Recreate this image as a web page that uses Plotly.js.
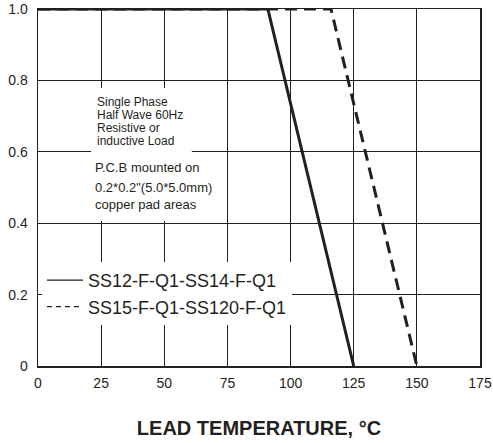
<!DOCTYPE html>
<html>
<head>
<meta charset="utf-8">
<script src="https://cdn.plot.ly/plotly-3.0.1.min.js"></script>
<style>html,body{margin:0;padding:0;background:#fff;}#chart{width:493px;height:443px;}</style>
</head>
<body>
<div id="chart"></div>
<script>
// Series data (lead temperature °C vs. normalized forward current)
const tempSolid = [0, 91, 125];
const currentSolid = [1.0, 1.0, 0];
const tempDash = [0, 116, 150];
const currentDash = [1.0, 1.0, 0];
const seriesNames = ["SS12-F-Q1-SS14-F-Q1", "SS15-F-Q1-SS120-F-Q1"];
const xTicks = [0, 25, 50, 75, 100, 125, 150, 175];
const yTicks = [0, 0.2, 0.4, 0.6, 0.8, 1.0];
const yTickLabels = ["0", "0.2", "0.4", "0.6", "0.8", "1.0"];
const noteLines1 = ["Single Phase", "Half Wave 60Hz", "Resistive or", "inductive Load"];
const noteLines2 = ["P.C.B mounted on", "0.2*0.2\"(5.0*5.0mm)", "copper pad areas"];

const ink = "#231f20";
const font = "Liberation Sans, Arial, sans-serif";

const traces = [
  {x: tempSolid, y: currentSolid, name: seriesNames[0], mode: "lines", showlegend: false,
   line: {color: ink, width: 3}},
  {x: tempDash, y: currentDash, name: seriesNames[1], mode: "lines", showlegend: false,
   line: {color: ink, width: 3, dash: "12px,7px"}},
  // legend keys (thin samples, as in the original legend)
  {x: [null], y: [null], name: seriesNames[0], mode: "lines",
   line: {color: ink, width: 1.3}},
  {x: [null], y: [null], name: seriesNames[1], mode: "lines",
   line: {color: ink, width: 1.3, dash: "5px,4px"}}
];

const notePos1 = [0.7395, 0.703, 0.6665, 0.630];
const notePos2 = [0.5574, 0.4986, 0.451];
const annotations = [];
noteLines1.forEach((t, i) => annotations.push({
  xref: "paper", yref: "paper", x: 0.131, y: notePos1[i], xanchor: "left", yanchor: "middle",
  text: t, showarrow: false, borderpad: 0, font: {family: font, size: 12, color: ink}
}));
noteLines2.forEach((t, i) => annotations.push({
  xref: "paper", yref: "paper", x: 0.127, y: notePos2[i], xanchor: "left", yanchor: "middle",
  text: t, showarrow: false, borderpad: 0, font: {family: font, size: 13, color: ink}
}));

const layout = {
  width: 493, height: 443,
  margin: {l: 38, r: 13, t: 9, b: 77},
  paper_bgcolor: "#fff", plot_bgcolor: "#fff",
  showlegend: true,
  legend: {
    x: 0.009, y: 0.2915, xanchor: "left", yanchor: "top",
    bgcolor: "#fff", borderwidth: 0, itemwidth: 36,
    font: {family: font, size: 18, color: ink},
    tracegroupgap: 0
  },
  xaxis: {
    range: [0, 175], tickvals: xTicks, ticktext: xTicks.map(String),
    showgrid: true, gridcolor: ink, gridwidth: 1,
    showline: true, linecolor: ink, linewidth: 1.5, mirror: true,
    zeroline: false, ticks: "", ticklabelstandoff: 4,
    tickfont: {family: font, size: 14, color: ink},
    title: {text: "LEAD TEMPERATURE, °C", standoff: 30,
            font: {family: font, size: 20, color: ink, weight: "bold"}},
    fixedrange: true
  },
  yaxis: {
    range: [0, 1.0], tickvals: yTicks, ticktext: yTickLabels,
    showgrid: true, gridcolor: ink, gridwidth: 1,
    showline: true, linecolor: ink, linewidth: 1.5, mirror: true,
    zeroline: false, ticks: "", ticklabelstandoff: 6,
    tickfont: {family: font, size: 14, color: ink},
    fixedrange: true
  },
  shapes: [
    {type: "rect", xref: "paper", yref: "paper", x0: 0.12, x1: 0.348, y0: 0.406, y1: 0.779,
     fillcolor: "#fff", line: {width: 0}, layer: "above"}
  ],
  annotations: annotations
};

Plotly.newPlot("chart", traces, layout, {displayModeBar: false, staticPlot: true});
</script>
</body>
</html>
